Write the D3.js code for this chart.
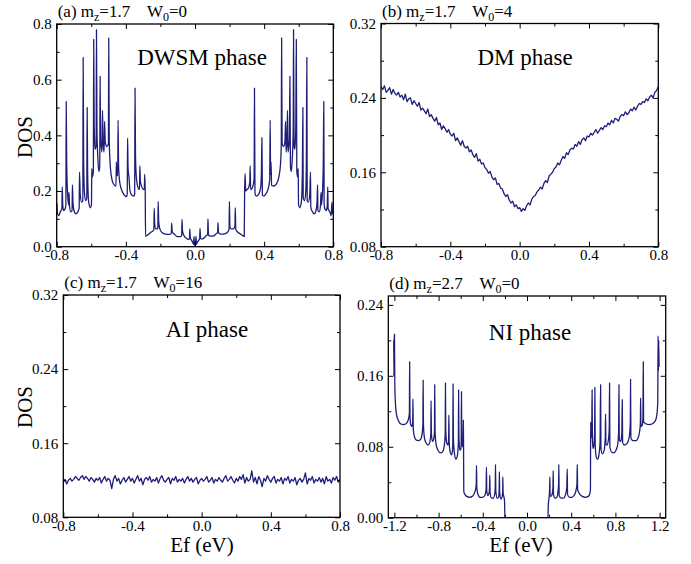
<!DOCTYPE html>
<html>
<head>
<meta charset="utf-8">
<script src="https://cdn.jsdelivr.net/npm/d3@7"></script>
<style>
  body { margin: 0; background: #fff; }
  svg text { font-family: "Liberation Serif", "Times New Roman", serif; fill: #000; }
</style>
</head>
<body>
<div id="chart"></div>
<script>
// ---- data ----

// (a) mz=1.7 W0=0 : DWSM phase, [Ef, DOS]
const dwsmPts = [
  [-0.800,0.121],[-0.799,0.158],[-0.796,0.118],[-0.788,0.112],[-0.780,0.125],[-0.770,0.137],
  [-0.768,0.215],[-0.765,0.150],[-0.760,0.130],[-0.752,0.135],[-0.747,0.150],[-0.745,0.522],
  [-0.742,0.300],[-0.737,0.190],[-0.731,0.150],[-0.729,0.195],[-0.726,0.150],[-0.719,0.125],
  [-0.711,0.130],[-0.709,0.222],[-0.706,0.160],[-0.700,0.130],[-0.690,0.118],[-0.678,0.125],
  [-0.670,0.140],[-0.668,0.268],[-0.664,0.190],[-0.656,0.160],[-0.649,0.165],[-0.647,0.680],
  [-0.644,0.300],[-0.639,0.190],[-0.632,0.165],[-0.626,0.175],[-0.624,0.500],[-0.621,0.260],
  [-0.615,0.160],[-0.605,0.140],[-0.599,0.150],[-0.597,0.280],[-0.594,0.250],[-0.588,0.270],
  [-0.586,0.745],[-0.583,0.430],[-0.578,0.350],[-0.572,0.360],[-0.570,0.780],[-0.567,0.420],
  [-0.562,0.320],[-0.556,0.270],[-0.551,0.290],[-0.549,0.612],[-0.546,0.390],[-0.538,0.340],
  [-0.535,0.490],[-0.532,0.380],[-0.526,0.340],[-0.523,0.450],[-0.519,0.375],[-0.510,0.360],
  [-0.501,0.370],[-0.499,0.750],[-0.496,0.380],[-0.490,0.290],[-0.480,0.240],[-0.468,0.222],
  [-0.457,0.218],[-0.455,0.305],[-0.452,0.260],[-0.447,0.255],[-0.445,0.455],[-0.442,0.290],
  [-0.435,0.230],[-0.422,0.200],[-0.408,0.185],[-0.396,0.180],[-0.392,0.190],[-0.390,0.390],
  [-0.387,0.280],[-0.382,0.250],[-0.376,0.200],[-0.365,0.185],[-0.352,0.182],[-0.349,0.190],
  [-0.347,0.570],[-0.344,0.320],[-0.338,0.240],[-0.328,0.210],[-0.321,0.205],[-0.319,0.290],
  [-0.316,0.235],[-0.308,0.215],[-0.298,0.205],[-0.293,0.210],[-0.291,0.260],[-0.288,0.200],
  [-0.286,0.037],[-0.278,0.040],[-0.268,0.045],[-0.255,0.052],[-0.242,0.058],[-0.238,0.062],
  [-0.236,0.138],[-0.233,0.080],[-0.226,0.064],[-0.218,0.064],[-0.215,0.068],[-0.213,0.163],
  [-0.210,0.090],[-0.204,0.065],[-0.190,0.050],[-0.170,0.045],[-0.150,0.044],[-0.137,0.048],
  [-0.135,0.085],[-0.132,0.055],[-0.120,0.045],[-0.100,0.036],[-0.085,0.036],[-0.077,0.040],
  [-0.075,0.098],[-0.072,0.055],[-0.062,0.038],[-0.048,0.030],[-0.037,0.026],[-0.032,0.028],
  [-0.030,0.064],[-0.027,0.032],[-0.019,0.022],[-0.012,0.014],[-0.008,0.008],[-0.006,0.036],
  [-0.003,0.010],[0.000,0.003],[0.003,0.009],[0.006,0.037],[0.008,0.009],[0.013,0.015],
  [0.020,0.022],[0.027,0.028],[0.029,0.066],[0.032,0.032],[0.040,0.027],[0.050,0.030],
  [0.062,0.038],[0.073,0.045],[0.075,0.100],[0.078,0.042],[0.088,0.038],[0.105,0.038],
  [0.120,0.045],[0.131,0.052],[0.133,0.086],[0.136,0.050],[0.150,0.045],[0.170,0.046],
  [0.188,0.052],[0.197,0.062],[0.199,0.163],[0.202,0.070],[0.210,0.064],[0.222,0.064],
  [0.231,0.075],[0.233,0.140],[0.236,0.062],[0.248,0.052],[0.262,0.046],[0.276,0.040],
  [0.285,0.037],[0.287,0.200],[0.290,0.262],[0.293,0.200],[0.300,0.205],[0.310,0.212],
  [0.317,0.232],[0.319,0.290],[0.322,0.205],[0.332,0.212],[0.342,0.245],[0.344,0.570],
  [0.347,0.190],[0.355,0.182],[0.368,0.188],[0.380,0.215],[0.384,0.260],[0.387,0.392],
  [0.390,0.185],[0.398,0.182],[0.410,0.190],[0.422,0.205],[0.432,0.240],[0.435,0.455],
  [0.437,0.260],[0.440,0.305],[0.443,0.220],[0.455,0.218],[0.470,0.225],[0.485,0.250],
  [0.495,0.300],[0.499,0.370],[0.501,0.750],[0.504,0.370],[0.512,0.360],[0.520,0.375],
  [0.524,0.450],[0.527,0.340],[0.532,0.380],[0.535,0.490],[0.538,0.340],[0.546,0.390],
  [0.549,0.612],[0.552,0.290],[0.557,0.270],[0.563,0.320],[0.568,0.420],[0.570,0.780],
  [0.573,0.360],[0.578,0.350],[0.583,0.430],[0.586,0.745],[0.589,0.270],[0.594,0.250],
  [0.597,0.280],[0.599,0.150],[0.606,0.140],[0.615,0.160],[0.621,0.260],[0.624,0.500],
  [0.626,0.175],[0.633,0.165],[0.640,0.190],[0.644,0.300],[0.647,0.680],[0.649,0.165],
  [0.656,0.160],[0.664,0.190],[0.668,0.268],[0.670,0.140],[0.680,0.125],[0.690,0.118],
  [0.700,0.130],[0.706,0.160],[0.709,0.222],[0.711,0.130],[0.719,0.125],[0.726,0.150],
  [0.729,0.195],[0.731,0.150],[0.737,0.190],[0.742,0.300],[0.745,0.522],[0.747,0.150],
  [0.752,0.135],[0.760,0.130],[0.765,0.150],[0.768,0.215],[0.770,0.137],[0.780,0.125],
  [0.788,0.112],[0.792,0.160],[0.796,0.118],[0.800,0.121]
];

// (b) and (c) are sampled on an even Ef grid
const gridStart = -0.8;
const gridStep = 0.01;

// (b) mz=1.7 W0=4 : DM phase
const dmDos = [
  0.252,0.249,0.253,0.246,0.248,0.251,0.244,0.249,0.245,0.243,
  0.246,0.241,0.243,0.238,0.244,0.236,0.239,0.240,0.233,0.237,
  0.234,0.231,0.235,0.227,0.229,0.226,0.223,0.228,0.220,0.222,
  0.218,0.215,0.219,0.211,0.213,0.206,0.210,0.207,0.203,0.206,
  0.201,0.199,0.202,0.194,0.197,0.193,0.189,0.194,0.188,0.186,
  0.188,0.182,0.184,0.179,0.176,0.180,0.172,0.174,0.169,0.170,
  0.165,0.163,0.159,0.161,0.155,0.152,0.154,0.147,0.148,0.143,
  0.142,0.137,0.134,0.136,0.130,0.127,0.129,0.123,0.125,0.121,
  0.122,0.118,0.121,0.119,0.124,0.127,0.125,0.131,0.134,0.135,
  0.139,0.141,0.144,0.142,0.148,0.151,0.149,0.156,0.158,0.160,
  0.164,0.166,0.170,0.168,0.173,0.177,0.175,0.181,0.179,0.184,
  0.186,0.185,0.190,0.188,0.193,0.190,0.195,0.197,0.194,0.199,
  0.198,0.202,0.200,0.203,0.206,0.202,0.205,0.208,0.206,0.210,
  0.209,0.213,0.211,0.216,0.213,0.218,0.217,0.215,0.220,0.222,
  0.221,0.225,0.222,0.224,0.228,0.226,0.230,0.227,0.231,0.234,
  0.233,0.236,0.235,0.239,0.237,0.241,0.243,0.240,0.246,0.248,
  0.252
];

// (c) mz=1.7 W0=16 : AI phase
const aiDos = [
  0.118,0.121,0.116,0.120,0.122,0.119,0.121,0.124,0.122,0.120,
  0.123,0.125,0.121,0.124,0.122,0.119,0.123,0.121,0.118,0.122,
  0.120,0.123,0.117,0.121,0.124,0.119,0.122,0.120,0.111,0.121,
  0.125,0.119,0.122,0.116,0.120,0.123,0.118,0.121,0.124,0.119,
  0.122,0.117,0.121,0.125,0.119,0.122,0.115,0.121,0.123,0.120,
  0.124,0.118,0.121,0.119,0.123,0.117,0.122,0.125,0.120,0.118,
  0.121,0.123,0.116,0.122,0.120,0.124,0.118,0.121,0.119,0.122,
  0.117,0.121,0.124,0.119,0.122,0.118,0.121,0.123,0.116,0.120,
  0.122,0.119,0.121,0.124,0.118,0.120,0.123,0.117,0.121,0.119,
  0.123,0.120,0.118,0.122,0.125,0.119,0.121,0.124,0.120,0.117,
  0.122,0.119,0.124,0.121,0.126,0.117,0.123,0.119,0.121,0.130,
  0.118,0.123,0.116,0.124,0.120,0.113,0.122,0.119,0.125,0.121,
  0.118,0.122,0.124,0.117,0.121,0.119,0.123,0.116,0.122,0.120,
  0.124,0.117,0.121,0.119,0.123,0.115,0.120,0.122,0.118,0.121,
  0.128,0.116,0.122,0.120,0.124,0.117,0.121,0.119,0.123,0.118,
  0.122,0.116,0.124,0.119,0.121,0.117,0.123,0.120,0.124,0.118,
  0.121
];

// (d) mz=2.7 W0=0 : NI phase, [Ef, DOS]
const niPts = [
  [-1.206,0.200],[-1.204,0.160],[-1.201,0.204],[-1.199,0.207],[-1.196,0.150],[-1.190,0.128],
  [-1.180,0.116],[-1.165,0.110],[-1.145,0.106],[-1.120,0.105],[-1.095,0.106],[-1.075,0.110],
  [-1.064,0.118],[-1.062,0.176],[-1.059,0.115],[-1.052,0.105],[-1.042,0.103],[-1.034,0.108],
  [-1.032,0.134],[-1.029,0.100],[-1.020,0.092],[-1.005,0.088],[-0.985,0.087],[-0.965,0.088],
  [-0.950,0.094],[-0.942,0.105],[-0.940,0.155],[-0.937,0.105],[-0.928,0.090],[-0.912,0.084],
  [-0.895,0.082],[-0.880,0.085],[-0.870,0.095],[-0.868,0.132],[-0.865,0.095],[-0.855,0.086],
  [-0.845,0.088],[-0.837,0.098],[-0.835,0.150],[-0.832,0.098],[-0.822,0.082],[-0.805,0.076],
  [-0.785,0.073],[-0.765,0.074],[-0.750,0.080],[-0.740,0.095],[-0.738,0.152],[-0.735,0.098],
  [-0.726,0.084],[-0.714,0.082],[-0.709,0.090],[-0.707,0.116],[-0.704,0.085],[-0.695,0.074],
  [-0.683,0.071],[-0.674,0.076],[-0.671,0.090],[-0.669,0.151],[-0.666,0.090],[-0.656,0.072],
  [-0.643,0.066],[-0.630,0.070],[-0.621,0.085],[-0.619,0.144],[-0.616,0.090],[-0.607,0.076],
  [-0.598,0.078],[-0.595,0.090],[-0.593,0.142],[-0.590,0.090],[-0.583,0.080],[-0.578,0.085],
  [-0.576,0.110],[-0.574,0.080],[-0.572,0.030],[-0.565,0.027],[-0.545,0.024],[-0.520,0.023],
  [-0.495,0.024],[-0.475,0.028],[-0.462,0.034],[-0.459,0.040],[-0.457,0.059],[-0.454,0.034],
  [-0.445,0.027],[-0.425,0.023],[-0.400,0.023],[-0.382,0.025],[-0.370,0.032],[-0.367,0.057],
  [-0.364,0.030],[-0.352,0.025],[-0.343,0.028],[-0.339,0.034],[-0.337,0.048],[-0.334,0.028],
  [-0.320,0.022],[-0.305,0.022],[-0.292,0.027],[-0.287,0.036],[-0.285,0.060],[-0.282,0.030],
  [-0.270,0.022],[-0.258,0.023],[-0.252,0.030],[-0.250,0.052],[-0.247,0.028],[-0.235,0.021],
  [-0.224,0.024],[-0.220,0.030],[-0.219,0.046],[-0.216,0.028],[-0.210,0.024],[-0.206,0.022],
  [-0.203,0.018],[-0.200,0.001],[-0.190,0.000],[0.190,0.000],[0.193,0.015],[0.197,0.020],
  [0.202,0.026],[0.205,0.034],[0.207,0.046],[0.209,0.025],[0.218,0.024],[0.228,0.027],
  [0.235,0.034],[0.237,0.053],[0.240,0.026],[0.255,0.022],[0.270,0.023],[0.280,0.029],
  [0.286,0.038],[0.288,0.060],[0.291,0.025],[0.310,0.022],[0.330,0.022],[0.348,0.026],
  [0.360,0.034],[0.364,0.055],[0.367,0.026],[0.385,0.023],[0.405,0.023],[0.425,0.025],
  [0.442,0.030],[0.452,0.038],[0.455,0.060],[0.458,0.032],[0.475,0.027],[0.500,0.024],
  [0.530,0.023],[0.555,0.024],[0.568,0.027],[0.574,0.032],[0.576,0.108],[0.580,0.090],
  [0.586,0.100],[0.589,0.144],[0.592,0.088],[0.598,0.078],[0.606,0.082],[0.612,0.098],
  [0.614,0.147],[0.617,0.082],[0.628,0.068],[0.640,0.066],[0.652,0.072],[0.661,0.085],
  [0.666,0.150],[0.669,0.078],[0.682,0.072],[0.698,0.076],[0.708,0.090],[0.711,0.117],
  [0.714,0.083],[0.724,0.082],[0.737,0.088],[0.744,0.100],[0.747,0.152],[0.750,0.080],
  [0.765,0.074],[0.785,0.073],[0.805,0.076],[0.820,0.082],[0.829,0.097],[0.832,0.150],
  [0.835,0.088],[0.848,0.086],[0.858,0.095],[0.862,0.133],[0.865,0.085],[0.880,0.082],
  [0.900,0.083],[0.918,0.087],[0.930,0.096],[0.935,0.110],[0.937,0.156],[0.940,0.090],
  [0.960,0.087],[0.985,0.087],[1.005,0.090],[1.020,0.098],[1.026,0.108],[1.028,0.135],
  [1.031,0.103],[1.042,0.104],[1.049,0.112],[1.052,0.176],[1.055,0.108],[1.075,0.106],
  [1.105,0.105],[1.135,0.106],[1.160,0.109],[1.175,0.116],[1.183,0.130],[1.186,0.205],
  [1.189,0.165],[1.192,0.200],[1.195,0.170]
];

// tick values
const efTicks = [-0.8, -0.4, 0.0, 0.4, 0.8];
const efMinor = [-0.6, -0.2, 0.2, 0.6];
const efTicksWide = [-1.2, -0.8, -0.4, 0.0, 0.4, 0.8, 1.2];
const efMinorWide = [-1.0, -0.6, -0.2, 0.2, 0.6, 1.0];
const dosTicksA = [0.0, 0.2, 0.4, 0.6, 0.8];
const dosMinorA = [0.1, 0.3, 0.5, 0.7];
const dosTicksBC = [0.08, 0.16, 0.24, 0.32];
const dosMinorBC = [0.12, 0.20, 0.28];
const dosTicksD = [0.00, 0.08, 0.16, 0.24];
const dosMinorD = [0.04, 0.12, 0.20];

const titles = [
  ["(a) m", "z", "=1.7    W", "0", "=0"],
  ["(b) m", "z", "=1.7    W", "0", "=4"],
  ["(c) m", "z", "=1.7    W", "0", "=16"],
  ["(d) m", "z", "=2.7    W", "0", "=0"]
];
const phaseNames = ["DWSM phase", "DM phase", "AI phase", "NI phase"];

// ---- layout ----
const LINE = "#1e1e78";

const svg = d3.select("#chart").append("svg")
  .attr("width", 691)
  .attr("height", 564);

const gridPts = vals => vals.map((v, i) => [gridStart + i * gridStep, v]);

const panels = [
  { box: [56.7, 333.3, 24, 246.7], xd: [-0.8, 0.8], yd: [0, 0.8], pts: dwsmPts,
    xt: efTicks, xm: efMinor, yt: dosTicksA, ym: dosMinorA, yf: 1, curve: d3.curveMonotoneX,
    phase: [202, 65], dos: [32, 137] },
  { box: [381, 658.3, 23.5, 246.7], xd: [-0.8, 0.8], yd: [0.08, 0.32], pts: gridPts(dmDos),
    xt: efTicks, xm: efMinor, yt: dosTicksBC, ym: dosMinorBC, yf: 2, curve: d3.curveLinear,
    phase: [525, 65] },
  { box: [63.3, 340, 295, 517.3], xd: [-0.8, 0.8], yd: [0.08, 0.32], pts: gridPts(aiDos),
    xt: efTicks, xm: efMinor, yt: dosTicksBC, ym: dosMinorBC, yf: 2, curve: d3.curveLinear,
    phase: [207, 337], dos: [32, 407], ef: [202, 552] },
  { box: [388.3, 665.7, 296, 517.7], xd: [-1.255, 1.255], yd: [0, 0.25], pts: niPts,
    xt: efTicksWide, xm: efMinorWide, yt: dosTicksD, ym: dosMinorD, yf: 2, curve: d3.curveMonotoneX,
    phase: [530, 340], ef: [521, 552] }
];

panels.forEach((p, k) => {
  const [L, R, T, B] = p.box;
  const x = d3.scaleLinear().domain(p.xd).range([L, R]);
  const y = d3.scaleLinear().domain(p.yd).range([B, T]);
  const g = svg.append("g");

  g.append("clipPath").attr("id", "clip" + k)
    .append("rect").attr("x", L).attr("y", T).attr("width", R - L).attr("height", B - T);

  g.append("path")
    .datum(p.pts)
    .attr("clip-path", `url(#clip${k})`)
    .attr("fill", "none")
    .attr("stroke", LINE)
    .attr("stroke-width", 1.3)
    .attr("stroke-linejoin", "round")
    .attr("d", d3.line().x(d => x(d[0])).y(d => y(d[1])).curve(p.curve));

  // axes, ticks pointing inward on all four sides
  const fx = d => d.toFixed(1);
  const fy = d => d.toFixed(p.yf);
  const addAxis = (axis, tf, ty, vals, size, fmt, pad) => {
    const a = g.append("g")
      .attr("transform", `translate(${tf},${ty})`)
      .call(axis.tickValues(vals).tickSize(-size).tickPadding(pad).tickFormat(fmt || ""));
    a.select(".domain").remove();
    a.attr("font-size", 15).attr("font-family", null);
    a.selectAll("line").attr("stroke-width", 1);
  };
  addAxis(d3.axisBottom(x), 0, B, p.xt, 5, fx, 3);
  addAxis(d3.axisBottom(x), 0, B, p.xm, 3, null, 3);
  addAxis(d3.axisTop(x), 0, T, p.xt, 5, null, 3);
  addAxis(d3.axisTop(x), 0, T, p.xm, 3, null, 3);
  addAxis(d3.axisLeft(y), L, 0, p.yt, 5, fy, 5);
  addAxis(d3.axisLeft(y), L, 0, p.ym, 3, null, 5);
  addAxis(d3.axisRight(y), R, 0, p.yt, 5, null, 5);
  addAxis(d3.axisRight(y), R, 0, p.ym, 3, null, 5);

  g.append("rect")
    .attr("x", L).attr("y", T).attr("width", R - L).attr("height", B - T)
    .attr("fill", "none").attr("stroke", "#000").attr("stroke-width", 1.3);

  // panel title with subscripts
  const t = titles[k];
  const title = g.append("text")
    .attr("x", L + 1).attr("y", T - 7)
    .attr("font-size", 17)
    .style("white-space", "pre");
  title.append("tspan").text(t[0]);
  title.append("tspan").attr("dy", 4).attr("font-size", 12).text(t[1]);
  title.append("tspan").attr("dy", -4).text(t[2]);
  title.append("tspan").attr("dy", 4).attr("font-size", 12).text(t[3]);
  title.append("tspan").attr("dy", -4).text(t[4]);

  g.append("text")
    .attr("x", p.phase[0]).attr("y", p.phase[1])
    .attr("text-anchor", "middle")
    .attr("font-size", 23)
    .text(phaseNames[k]);

  if (p.dos) {
    g.append("text")
      .attr("transform", `translate(${p.dos[0]},${p.dos[1]}) rotate(-90)`)
      .attr("text-anchor", "middle")
      .attr("font-size", 21)
      .text("DOS");
  }
  if (p.ef) {
    g.append("text")
      .attr("x", p.ef[0]).attr("y", p.ef[1])
      .attr("text-anchor", "middle")
      .attr("font-size", 21)
      .text("Ef (eV)");
  }
});
</script>
</body>
</html>
